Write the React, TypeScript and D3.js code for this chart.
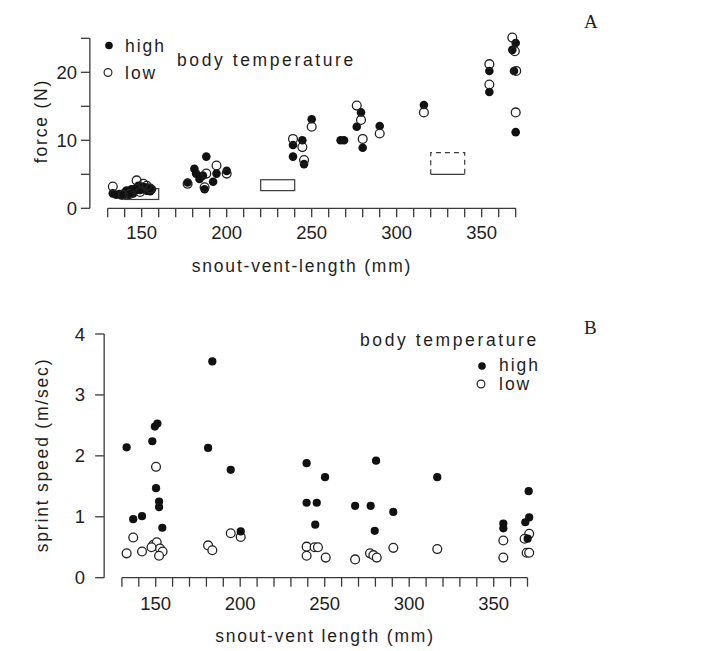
import * as d3 from 'd3';

// panel A: bite force vs snout-vent length
const forceHigh: [number, number][] = [
  [133, 2.2], [135, 2.0], [137, 2.1], [138, 1.9], [140, 2.3], [141, 2.6], [142, 2.0], [143, 2.4],
  [144, 2.8], [145, 2.2], [146, 2.6], [147, 3.0], [148, 3.3], [149, 2.7], [150, 3.2], [151, 2.8],
  [152, 3.1], [153, 2.6], [154, 3.0], [155, 2.5], [156, 2.8],
  [177, 3.8], [181, 5.8], [182, 5.1], [184, 4.3], [188, 7.6], [187, 2.8], [194, 5.1], [192, 3.9],
  [200, 5.5], [186, 4.8],
  [250, 13.1], [239, 9.3], [244.5, 10.0], [239, 7.6], [245.5, 6.5],
  [267, 10.0], [269, 10.0], [279, 14.1], [276.5, 12.0], [280, 8.9], [290, 12.1],
  [316, 15.2],
  [354.5, 20.2], [354.5, 17.1],
  [370, 24.3], [368, 23.3], [369, 20.2], [370, 11.2],
];
const forceLow: [number, number][] = [
  [133, 3.2], [139, 2.0], [143, 2.1], [147, 4.1], [151, 3.6], [153, 3.3], [155, 2.9], [149, 2.4],
  [177, 3.6], [188, 5.1], [194, 6.3], [200, 5.1], [187, 3.1],
  [250, 12.0], [239, 10.2], [244.5, 9.0], [245.5, 7.1],
  [276.5, 15.1], [279, 13.0], [280, 10.2], [290, 11.0],
  [316, 14.1],
  [354.5, 21.2], [354.5, 18.2],
  [368, 25.1], [369.5, 23.1], [370.3, 20.2], [370, 14.1],
];
// [svl from, svl to, force from, force to]
const forceBoxes: [number, number, number, number][] = [
  [140, 160, 1.3, 2.9],
  [220, 240, 2.6, 4.2],
];
const dashedBox: [number, number, number, number] = [320, 340, 5.0, 8.2];

// panel B: sprint speed vs snout-vent length
const speedHigh: [number, number][] = [
  [132.8, 2.14], [149.5, 2.48], [151, 2.53], [148, 2.24], [150.2, 1.47], [152, 1.25], [152, 1.16],
  [136.7, 0.96], [141.9, 1.01], [153.9, 0.82],
  [181, 2.13], [183.5, 3.55], [194.4, 1.77], [200.3, 0.76],
  [239.3, 1.88], [239.3, 1.23], [245.3, 1.23], [244.4, 0.87], [250.2, 1.65],
  [268, 1.18], [277.2, 1.18], [280.4, 1.92], [279.6, 0.77], [290.6, 1.08],
  [316.6, 1.65],
  [355.7, 0.89], [355.7, 0.81],
  [370.7, 1.42], [371, 0.99], [368.7, 0.91], [370.1, 0.64],
];
const speedLow: [number, number][] = [
  [132.8, 0.40], [136.7, 0.66], [141.9, 0.43], [148.6, 0.54], [150.6, 0.58], [152.5, 0.48],
  [154.1, 0.43], [152, 0.36], [150.2, 1.82], [147.5, 0.50],
  [181, 0.53], [183.5, 0.45], [194.4, 0.73], [200.3, 0.67],
  [239.3, 0.51], [239.3, 0.36], [244, 0.5], [246, 0.5], [250.6, 0.33],
  [268, 0.30], [276.8, 0.40], [278.8, 0.37], [280.8, 0.33], [290.6, 0.49],
  [316.6, 0.47],
  [355.7, 0.61], [355.7, 0.33],
  [371, 0.72], [368.3, 0.64], [369.5, 0.41], [371, 0.41],
];

const svlTicks = d3.range(130, 371, 10);
const svlLabels = [150, 200, 250, 300, 350];
const forceTicks = [0, 5, 10, 15, 20, 25];
const forceLabels = [0, 10, 20];
const speedTicks = [0, 1, 2, 3, 4];

const FONT = '"Liberation Sans", Arial, sans-serif';
const INK = '#1e1e1e';
const LINE = '#3a3a3a';

function Axes({ x, y, yTicks, yLabels, yAxisAt, yLabelEnd, tickBase }: any) {
  const y0 = y(0);
  const yTop = y(yTicks[yTicks.length - 1]);
  return (
    <g>
      <line x1={yAxisAt} x2={yAxisAt} y1={y0} y2={yTop} stroke={LINE} strokeWidth={1.3} />
      {yTicks.map((t: number) => (
        <line key={'yt' + t} x1={yAxisAt - 9} x2={yAxisAt} y1={y(t)} y2={y(t)} stroke={LINE} strokeWidth={1.3} />
      ))}
      {yLabels.map((t: number) => (
        <text key={'yl' + t} x={yLabelEnd} y={y(t) + 6.5} textAnchor="end" fontSize={18.5} fill={INK} fontFamily={FONT}>
          {t}
        </text>
      ))}
      <line x1={x(130)} x2={x(370)} y1={y0} y2={y0} stroke={LINE} strokeWidth={1.3} />
      {svlTicks.map((t) => (
        <line key={'xt' + t} x1={x(t)} x2={x(t)} y1={y0} y2={y0 + 9} stroke={LINE} strokeWidth={1.3} />
      ))}
      {svlLabels.map((t) => (
        <text key={'xl' + t} x={x(t)} y={tickBase} textAnchor="middle" fontSize={18.5} fill={INK} fontFamily={FONT}>
          {t}
        </text>
      ))}
    </g>
  );
}

function Dots({ data, x, y, filled, r, fillOpen }: any) {
  return (
    <g>
      {data.map((d: [number, number], i: number) =>
        filled ? (
          <circle key={i} cx={x(d[0])} cy={y(d[1])} r={r} fill="#111" />
        ) : (
          <circle key={i} cx={x(d[0])} cy={y(d[1])} r={r} fill={fillOpen} stroke="#222" strokeWidth={1.3} />
        )
      )}
    </g>
  );
}

export default function App() {
  // panel A scales
  const xA = d3.scaleLinear().domain([130, 370]).range([107.7, 515.7]);
  const yA = d3.scaleLinear().domain([0, 25]).range([208.3, 38.3]);
  // panel B scales
  const xB = d3.scaleLinear().domain([130, 370]).range([121.9, 527.5]);
  const yB = d3.scaleLinear().domain([0, 4]).range([577.7, 334]);

  const [dx0, dx1, dy0, dy1] = dashedBox;

  return (
    <svg width={717} height={651} style={{ position: 'absolute', left: 0, top: 0, background: '#fff' }}>
      {/* panel A */}
      <Axes x={xA} y={yA} yTicks={forceTicks} yLabels={forceLabels} yAxisAt={xA(119.5)} yLabelEnd={77} tickBase={238.5} />
      {forceBoxes.map((b, i) => (
        <rect key={i} x={xA(b[0])} y={yA(b[3])} width={xA(b[1]) - xA(b[0])} height={yA(b[2]) - yA(b[3])}
          fill="none" stroke={LINE} strokeWidth={1.2} />
      ))}
      <path d={`M${xA(dx0)},${yA(dy0)}V${yA(dy1)}H${xA(dx1)}V${yA(dy0)}`} fill="none" stroke={LINE}
        strokeWidth={1.2} strokeDasharray="5,4" />
      <line x1={xA(dx0)} x2={xA(dx1)} y1={yA(dy0)} y2={yA(dy0)} stroke={LINE} strokeWidth={1.2} />
      <Dots data={forceHigh} x={xA} y={yA} filled r={4.3} />
      <Dots data={forceLow} x={xA} y={yA} filled={false} r={4.4} fillOpen="none" />
      <circle cx={109} cy={45.5} r={3.8} fill="#111" />
      <circle cx={108} cy={72.5} r={3.9} fill="#fff" stroke="#222" strokeWidth={1.2} />
      <text x={125} y={52} fontSize={17.5} letterSpacing={2} fill={INK} fontFamily={FONT}>high</text>
      <text x={125} y={79} fontSize={17.5} letterSpacing={2} fill={INK} fontFamily={FONT}>low</text>
      <text x={177} y={66} fontSize={17.5} letterSpacing={2.6} fill={INK} fontFamily={FONT}>body temperature</text>
      <text x={302} y={272} textAnchor="middle" fontSize={17.5} letterSpacing={1.8} fill={INK} fontFamily={FONT}>
        snout-vent-length (mm)
      </text>
      <text transform="translate(47,121) rotate(-90)" textAnchor="middle" fontSize={17.5} letterSpacing={1.8}
        fill={INK} fontFamily={FONT}>
        force (N)
      </text>
      <text x={584} y={28} fontSize={19} fill={INK} fontFamily='"Liberation Serif", "DejaVu Serif", serif'>A</text>

      {/* panel B */}
      <Axes x={xB} y={yB} yTicks={speedTicks} yLabels={speedTicks} yAxisAt={xB(119.5)} yLabelEnd={85} tickBase={610} />
      <Dots data={speedLow} x={xB} y={yB} filled={false} r={4.4} fillOpen="#fff" />
      <Dots data={speedHigh} x={xB} y={yB} filled r={4.1} />
      <text x={360} y={346} fontSize={17.5} letterSpacing={2.6} fill={INK} fontFamily={FONT}>body temperature</text>
      <circle cx={482} cy={366} r={3.8} fill="#111" />
      <circle cx={481} cy={384} r={3.9} fill="#fff" stroke="#222" strokeWidth={1.2} />
      <text x={499} y={371} fontSize={17.5} letterSpacing={2} fill={INK} fontFamily={FONT}>high</text>
      <text x={499} y={390} fontSize={17.5} letterSpacing={2} fill={INK} fontFamily={FONT}>low</text>
      <text x={325} y={642} textAnchor="middle" fontSize={17.5} letterSpacing={1.8} fill={INK} fontFamily={FONT}>
        snout-vent length (mm)
      </text>
      <text transform="translate(48,455) rotate(-90)" textAnchor="middle" fontSize={17.5} letterSpacing={1.8}
        fill={INK} fontFamily={FONT}>
        sprint speed (m/sec)
      </text>
      <text x={584} y={334} fontSize={19} fill={INK} fontFamily='"Liberation Serif", "DejaVu Serif", serif'>B</text>
    </svg>
  );
}
